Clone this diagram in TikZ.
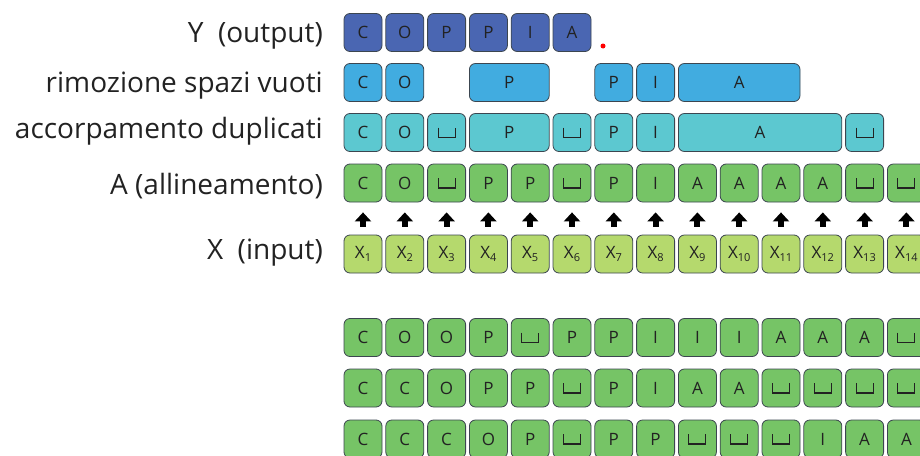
\documentclass[tikz,border=0pt]{standalone}
\usepackage{fontspec}
\setmainfont{Open Sans}
\usetikzlibrary{arrows.meta}
\definecolor{cY}{HTML}{4A66B2}
\definecolor{cR}{HTML}{41ACE0}
\definecolor{cD}{HTML}{5CC8D0}
\definecolor{cA}{HTML}{76C466}
\definecolor{cX}{HTML}{B5D96D}
\definecolor{edgec}{HTML}{3C4650}
\definecolor{txt}{HTML}{222222}
\def\bb{b}
\tikzset{
  cell/.style={draw=edgec, line width=0.8pt, rounded corners=6pt, minimum height=38pt,
    minimum width=#1, inner sep=0pt, font=\fontsize{17}{17}\selectfont, text=txt},
  cell/.default=38pt,
  blank/.style={path picture={\draw[line width=1.1pt, txt, sharp corners]
    ([shift={(-8.5pt,5pt)}]path picture bounding box.center) -- ++(0pt,-10pt) -- ++(17pt,0pt) -- ++(0pt,10pt);}},
  lbl/.style={anchor=east, font=\fontsize{28}{28}\selectfont, text=txt, inner sep=0pt},
  uparrow/.style={-{Triangle[width=16pt,length=9pt]}, line width=6pt, black,
    shorten <=8pt, shorten >=10pt}
}
\newcommand\rowcells[4]{%
  \foreach \c/\s/\t in {#3} {
    \pgfmathsetmacro\w{\s*41.8-3.8}
    \pgfmathsetmacro\cx{344+(\c-1)*41.8+\w/2}
    \ifx\t\bb
      \node[cell=\w pt, fill=#2, blank] (#4-\c) at (\cx,#1) {};
    \else
      \node[cell=\w pt, fill=#2] (#4-\c) at (\cx,#1) {\t};
    \fi
  }}
\begin{document}
\begin{tikzpicture}[x=1pt,y=-1pt]
\useasboundingbox (0,0) rectangle (920,455);
\clip (0,0) rectangle (920,455);
% labels
\node[lbl] (lY) at (323,36) {Y~ (output)};
\node[lbl] (lR) at (323,86) {rimozione spazi vuoti};
\node[lbl] (lD) at (323,131) {accorpamento duplicati};
\node[lbl] (lA) at (323,186) {A (allineamento)};
\node[lbl] (lX) at (323,253) {X~ (input)};
% Y row
\rowcells{32.5}{cY}{1/1/C,2/1/O,3/1/P,4/1/P,5/1/I,6/1/A}{y}
\node[circle, fill=red, inner sep=0pt, minimum size=5pt] (dot) at (603,46) {};
% rimozione
\rowcells{82.5}{cR}{1/1/C,2/1/O,4/2/P,7/1/P,8/1/I,9/3/A}{r}
% accorpamento
\rowcells{132.5}{cD}{1/1/C,2/1/O,3/1/b,4/2/P,6/1/b,7/1/P,8/1/I,9/4/A,13/1/b}{d}
% A row
\rowcells{183}{cA}{1/1/C,2/1/O,3/1/b,4/1/P,5/1/P,6/1/b,7/1/P,8/1/I,9/1/A,10/1/A,11/1/A,12/1/A,13/1/b,14/1/b}{a}
% X row
\foreach \i in {1,...,14} {
  \pgfmathsetmacro\cx{363+(\i-1)*41.8}
  \node[cell, fill=cX] (x-\i) at (\cx,254) {X\raisebox{-3pt}{\fontsize{11}{11}\selectfont\i}};
}
\foreach \i in {1,...,14} \draw[uparrow] (x-\i.north) -- (a-\i.south);
% bottom rows
\rowcells{337.5}{cA}{1/1/C,2/1/O,3/1/O,4/1/P,5/1/b,6/1/P,7/1/P,8/1/I,9/1/I,10/1/I,11/1/A,12/1/A,13/1/A,14/1/b}{p}
\rowcells{388}{cA}{1/1/C,2/1/C,3/1/O,4/1/P,5/1/P,6/1/b,7/1/P,8/1/I,9/1/A,10/1/A,11/1/b,12/1/b,13/1/b,14/1/b}{q}
\rowcells{439}{cA}{1/1/C,2/1/C,3/1/C,4/1/O,5/1/P,6/1/b,7/1/P,8/1/P,9/1/b,10/1/b,11/1/b,12/1/I,13/1/A,14/1/A}{s}
\end{tikzpicture}
\end{document}
